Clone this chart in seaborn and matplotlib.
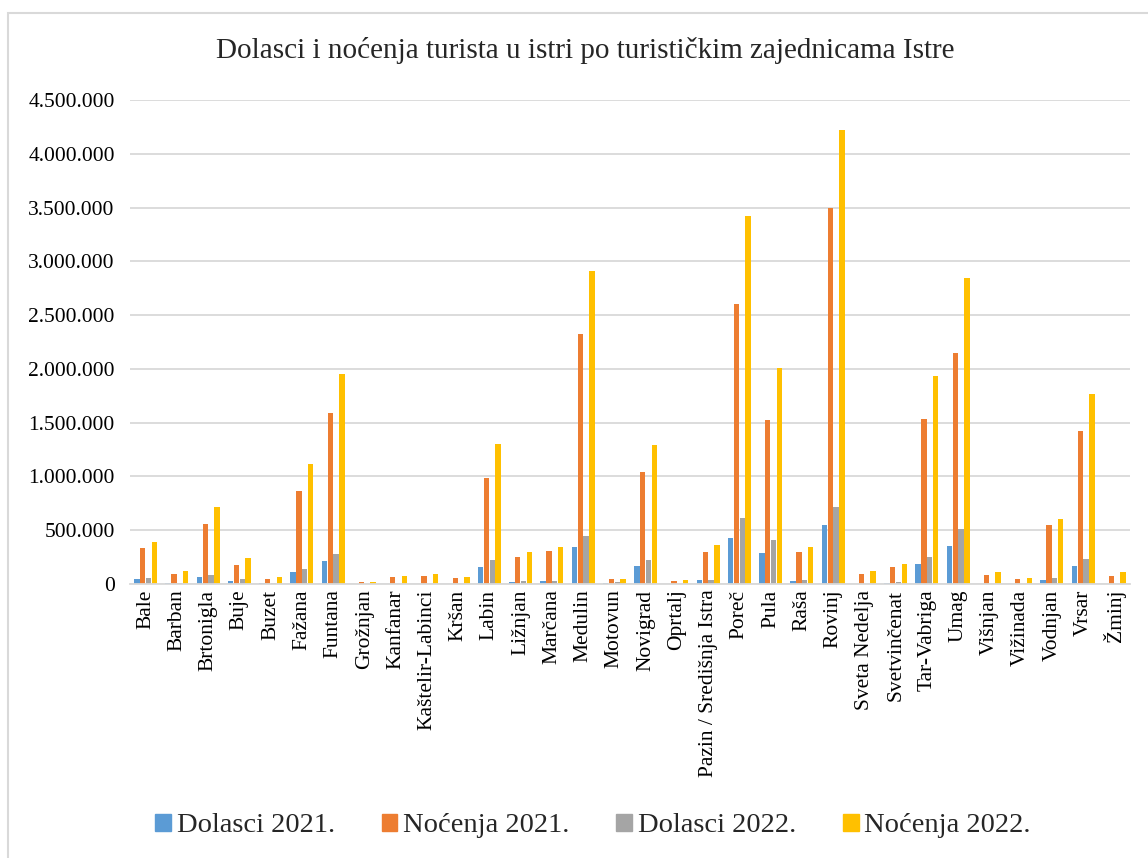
import numpy as np
import pandas as pd
import matplotlib
matplotlib.use("Agg")
import matplotlib.pyplot as plt
from matplotlib.patches import Rectangle
from matplotlib.ticker import FuncFormatter
import seaborn as sns

# Tourist zones of Istria
zones = [
    "Bale", "Barban", "Brtonigla", "Buje", "Buzet", "Fažana", "Funtana",
    "Grožnjan", "Kanfanar", "Kaštelir-Labinci", "Kršan", "Labin", "Ližnjan",
    "Marčana", "Medulin", "Motovun", "Novigrad", "Oprtalj",
    "Pazin / Središnja Istra", "Poreč", "Pula", "Raša", "Rovinj",
    "Sveta Nedelja", "Svetvinčenat", "Tar-Vabriga", "Umag", "Višnjan",
    "Vižinada", "Vodnjan", "Vrsar", "Žminj",
]

dolasci_2021 = [
    44000, 6000, 63000, 31000, 13000, 107000, 211000, 1000, 4000, 3000,
    4000, 160000, 22000, 28000, 340000, 13000, 164000, 2000, 35000, 428000,
    286000, 31000, 550000, 2000, 13000, 182000, 349000, 2000, 1000, 41000,
    167000, 2000,
]
nocenja_2021 = [
    333000, 97000, 560000, 173000, 50000, 866000, 1590000, 22000, 63000,
    75000, 57000, 985000, 248000, 305000, 2323000, 44000, 1043000, 28000,
    302000, 2606000, 1528000, 296000, 3494000, 97000, 154000, 1537000,
    2146000, 85000, 47000, 553000, 1425000, 79000,
]
dolasci_2022 = [
    53000, 8000, 88000, 44000, 13000, 142000, 280000, 1000, 3000, 3000,
    4000, 226000, 31000, 31000, 447000, 22000, 226000, 2000, 41000, 613000,
    406000, 41000, 714000, 2000, 16000, 248000, 516000, 2000, 1000, 53000,
    230000, 3000,
]
nocenja_2022 = [
    390000, 123000, 720000, 245000, 69000, 1112000, 1950000, 22000, 72000,
    97000, 69000, 1298000, 296000, 343000, 2907000, 50000, 1292000, 38000,
    358000, 3425000, 2006000, 345000, 4221000, 123000, 186000, 1932000,
    2848000, 107000, 53000, 607000, 1767000, 107000,
]

series_names = ["Dolasci 2021.", "Noćenja 2021.", "Dolasci 2022.", "Noćenja 2022."]
colors = ["#5B9BD5", "#ED7D31", "#A5A5A5", "#FFC000"]

df = pd.DataFrame({
    "zona": zones * 4,
    "serija": np.repeat(series_names, len(zones)),
    "vrijednost": dolasci_2021 + nocenja_2021 + dolasci_2022 + nocenja_2022,
})

sns.set_theme(style="white")
plt.rcParams["font.family"] = ["Liberation Serif", "DejaVu Serif"]

fig = plt.figure(figsize=(11.48, 8.58), dpi=100)
ax = fig.add_axes([130 / 1148, 1 - 584 / 858, 1000 / 1148, 484 / 858])

sns.barplot(
    data=df, x="zona", y="vrijednost", hue="serija",
    hue_order=series_names, palette=colors, order=zones,
    width=0.74, gap=0.06, linewidth=0, saturation=1, ax=ax,
)

ax.set_xlim(-0.5, len(zones) - 0.5)
ax.set_ylim(0, 4500000)
ax.set_yticks(np.arange(0, 4500001, 500000))
ax.yaxis.set_major_formatter(
    FuncFormatter(lambda v, _: f"{int(v):,}".replace(",", "."))
)
ax.grid(axis="y", color="#D9D9D9", linewidth=1.3)
ax.set_axisbelow(True)
for side in ["top", "right", "left"]:
    ax.spines[side].set_visible(False)
ax.spines["bottom"].set_color("#D9D9D9")
ax.spines["bottom"].set_linewidth(1.3)
ax.tick_params(axis="both", length=0, labelsize=15.5, colors="black")
ax.tick_params(axis="y", pad=11)
ax.tick_params(axis="x", pad=4)
plt.setp(ax.get_xticklabels(), rotation=90)
ax.set_xlabel("")
ax.set_ylabel("")

ax.legend_.remove()
handles = [Rectangle((0, 0), 1, 1, color=c) for c in colors]
fig.legend(
    handles, series_names, loc="center", bbox_to_anchor=(593 / 1148, 1 - 826 / 858),
    ncol=4, frameon=False, fontsize=20.5, handlelength=0.55, handleheight=0.55,
    handletextpad=0.2, columnspacing=1.65,
)

fig.text(585 / 1148, 1 - 50 / 858,
         "Dolasci i noćenja turista u istri po turističkim zajednicama Istre",
         ha="center", va="center", fontsize=21)

# light chart frame like the original export
fig.patches.append(Rectangle((8 / 1148, -0.1), 1.2, 1 - 13 / 858 + 0.1,
                             transform=fig.transFigure, fill=False,
                             edgecolor="#D9D9D9", linewidth=1.5))

fig.savefig("out.png", dpi=100)
